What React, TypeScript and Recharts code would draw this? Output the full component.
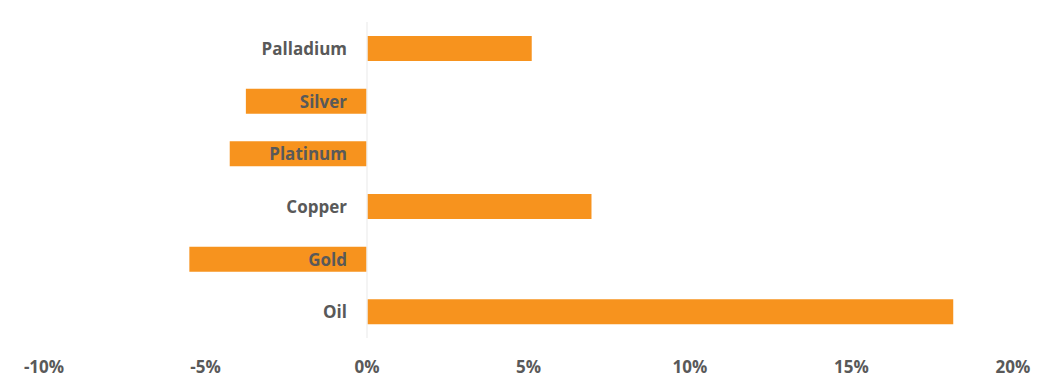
import { Bar, BarChart, LabelList, ReferenceLine, XAxis, YAxis } from "recharts";

const metals = ["Palladium", "Silver", "Platinum", "Copper", "Gold", "Oil"];
const change = [5.1, -3.75, -4.25, 6.95, -5.5, 18.15];
const xTicks = [-10, -5, 0, 5, 10, 15, 20];

const data = metals.map((name, i) => ({ name, change: change[i] }));

const labelColor = "#595959";
const font = "'Open Sans', sans-serif";

function MetalLabel(props: any) {
  const { x, y, width, height, value, index } = props;
  const v = change[index];
  // zero sits at x unless the bar was normalised to start at its left end
  const zeroX = v < 0 && width > 0 ? x + width : x;
  return (
    <text
      x={zeroX - 20}
      y={y + height / 2}
      textAnchor="end"
      dominantBaseline="central"
      fill={labelColor}
      fontFamily={font}
      fontWeight={700}
      fontSize={17}
    >
      {value}
    </text>
  );
}

export default function App() {
  return (
    <div style={{ width: 1057, height: 390, background: "#fff" }}>
      <style>{"body{margin:0}"}</style>
      <BarChart
        width={1057}
        height={390}
        data={data}
        layout="vertical"
        margin={{ top: 22, right: 44, bottom: 0, left: 44 }}
        barSize={25}
      >
        <XAxis
          type="number"
          domain={[-10, 20]}
          ticks={xTicks}
          interval={0}
          axisLine={false}
          tickLine={false}
          height={52}
          tickMargin={17}
          tickFormatter={(v: number) => `${v}%`}
          tick={{ fill: labelColor, fontSize: 17, fontWeight: 700, fontFamily: font }}
        />
        <YAxis type="category" dataKey="name" hide />
        <ReferenceLine x={0} stroke="#f0f0f0" strokeWidth={1.5} />
        <Bar dataKey="change" fill="#f7931e" isAnimationActive={false}>
          <LabelList dataKey="name" content={MetalLabel} />
        </Bar>
      </BarChart>
    </div>
  );
}
